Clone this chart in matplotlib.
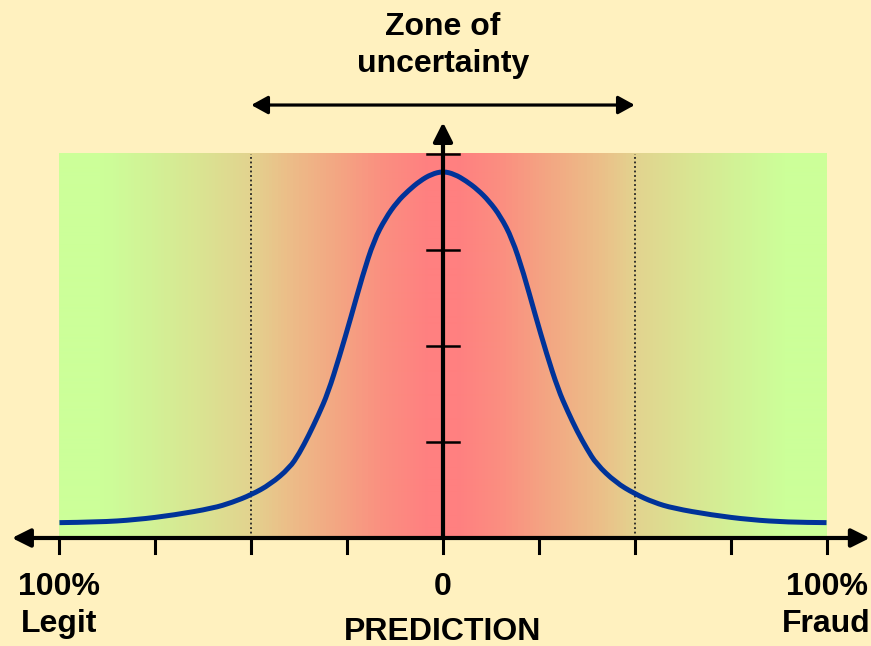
import numpy as np
import matplotlib
matplotlib.use("Agg")
import matplotlib.pyplot as plt
from matplotlib.colors import LinearSegmentedColormap
from matplotlib.path import Path
from matplotlib.patches import PathPatch

# ---- data ----
pred_x = [-1.0, -0.9, -0.8, -0.7, -0.6, -0.55, -0.5, -0.45, -0.4, -0.375, -0.35, -0.325, -0.3,
          -0.27, -0.24, -0.21, -0.18, -0.15, -0.12, -0.09, -0.06, -0.03, 0.0,
          0.03, 0.06, 0.09, 0.12, 0.15, 0.18, 0.21, 0.24, 0.27,
          0.3, 0.325, 0.35, 0.375, 0.4, 0.45, 0.5, 0.55, 0.6, 0.7, 0.8, 0.9, 1.0]
density = [0.16, 0.165, 0.19, 0.24, 0.31, 0.37, 0.45, 0.56, 0.73, 0.88, 1.07, 1.28, 1.51,
           1.89, 2.30, 2.73, 3.10, 3.33, 3.50, 3.62, 3.72, 3.79, 3.82,
           3.79, 3.72, 3.63, 3.51, 3.35, 3.12, 2.76, 2.33, 1.92,
           1.55, 1.32, 1.11, 0.93, 0.77, 0.58, 0.46, 0.37, 0.31, 0.24, 0.19, 0.165, 0.16]
x_ticks = [-1.0, -0.75, -0.5, -0.25, 0.0, 0.25, 0.5, 0.75, 1.0]
y_ticks = [1, 2, 3, 4]
zone = [-0.5, 0.5]
left_label = ["100%", "Legit"]
right_label = ["100%", "Fraud"]
center_label = "0"
axis_title = "PREDICTION"
zone_title = ["Zone of", "uncertainty"]

BG = "#FFF1BF"
plt.rcParams['font.family'] = ['Liberation Sans', 'DejaVu Sans']

fig = plt.figure(figsize=(8.71, 6.46), dpi=100, facecolor=BG)
ax = fig.add_axes([0, 0, 1, 1])
ax.set_facecolor(BG)
ax.set_xlim(-1.1551, 1.1160)
ax.set_ylim(-1.125, 5.604)
ax.axis('off')

# gradient background (colour stops along the x range)
stops = [(0.0, "#CCFF99"), (0.053, "#CCFF99"), (0.118, "#D2F296"), (0.183, "#DAE492"),
         (0.245, "#E2D48F"), (0.292, "#EBC089"), (0.357, "#F3A883"), (0.422, "#FB8F80"),
         (0.479, "#FF8080"), (0.521, "#FF8080"), (0.578, "#FB8F80"), (0.643, "#F3A883"),
         (0.708, "#EBC089"), (0.755, "#E2D48F"), (0.817, "#DAE492"), (0.882, "#D2F296"),
         (0.947, "#CCFF99"), (1.0, "#CCFF99")]
cmap = LinearSegmentedColormap.from_list("zone", stops)
grad = np.linspace(0, 1, 768).reshape(1, -1)
ax.imshow(grad, cmap=cmap, extent=[x_ticks[0], x_ticks[-1], 0, y_ticks[-1]],
          aspect='auto', zorder=1, interpolation='bilinear')

# dotted zone lines
for zx in zone:
    ax.plot([zx, zx], [0, y_ticks[-1]], color='#222222', lw=1.3, ls=(0, (1, 1.5)), zorder=2)

# curve: smooth quadratic path through the read points
pts = np.column_stack([pred_x, density])
verts = [tuple(pts[0])]
codes = [Path.MOVETO]
for i in range(1, len(pts) - 1):
    mid = (pts[i] + pts[i + 1]) / 2
    verts += [tuple(pts[i]), tuple(mid)]
    codes += [Path.CURVE3, Path.CURVE3]
verts.append(tuple(pts[-1]))
codes.append(Path.LINETO)
ax.add_patch(PathPatch(Path(verts, codes), fill=False, edgecolor='#003399', lw=3.6,
                       capstyle='butt', zorder=4))

# horizontal axis with arrows
ax.annotate('', xy=(-1.124, 0), xytext=(1.113, 0),
            arrowprops=dict(arrowstyle='<|-|>,head_length=1.1,head_width=0.55',
                            mutation_scale=10, lw=3, color='black',
                            shrinkA=0, shrinkB=0), zorder=5)
# vertical axis with arrow
ax.annotate('', xy=(0, 4.33), xytext=(0, 0),
            arrowprops=dict(arrowstyle='-|>,head_length=1.15,head_width=0.58',
                            mutation_scale=10, lw=3, color='black',
                            shrinkA=0, shrinkB=0), zorder=5)
# x ticks
for tx in x_ticks:
    ax.plot([tx, tx], [0, -0.16], color='black', lw=2.2, zorder=5)
# y ticks
for ty in y_ticks:
    ax.plot([-0.042, 0.042], [ty, ty], color='black', lw=1.8, zorder=5)

# zone arrow
ax.annotate('', xy=(zone[0], 4.51), xytext=(zone[1], 4.51),
            arrowprops=dict(arrowstyle='<|-|>,head_length=1.0,head_width=0.55',
                            mutation_scale=10, lw=2.3, color='black',
                            shrinkA=0, shrinkB=0), zorder=5)

fs = 23
txt = dict(ha='center', va='baseline', fontsize=fs, fontweight='bold', color='black')


def ypx(py):
    return (538 - py) / 96


ax.text(0, ypx(35), zone_title[0], **txt)
ax.text(0, ypx(72), zone_title[1], **txt)
ax.text(x_ticks[0], ypx(595), left_label[0], **txt)
ax.text(x_ticks[0], ypx(632), left_label[1], **txt)
ax.text(x_ticks[-1], ypx(595), right_label[0], **txt)
ax.text(x_ticks[-1], ypx(632), right_label[1], **txt)
ax.text(0, ypx(595), center_label, **txt)
ax.text(0, ypx(640), axis_title, **txt)

fig.savefig("out.png", dpi=100, facecolor=BG)
